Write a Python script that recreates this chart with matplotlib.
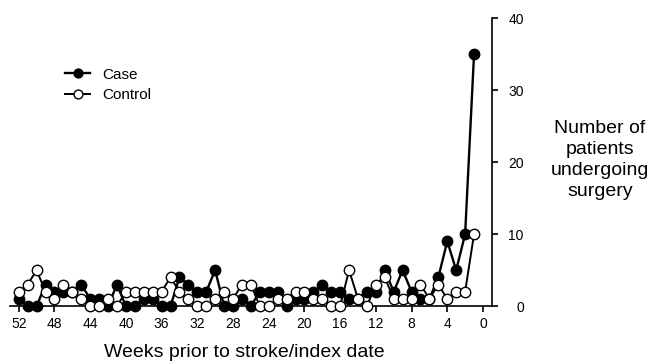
import numpy as np
import matplotlib
matplotlib.use('Agg')
import matplotlib.pyplot as plt

plt.rcParams['font.family'] = ['Liberation Sans', 'DejaVu Sans']

# weeks before stroke / index date, 52 down to 1
weeks = list(range(52, 0, -1))
case = [1, 0, 0, 3, 2, 2, 2, 3, 1, 1, 0, 3, 0, 0, 1, 1, 0, 0, 4, 3,
        2, 2, 5, 0, 0, 1, 0, 2, 2, 2, 0, 1, 1, 2, 3, 2, 2, 1, 1, 2,
        2, 5, 2, 5, 2, 1, 1, 4, 9, 5, 10, 35]
control = [2, 3, 5, 2, 1, 3, 2, 1, 0, 0, 1, 0, 2, 2, 2, 2, 2, 4, 2, 1,
           0, 0, 1, 2, 1, 3, 3, 0, 0, 1, 1, 2, 2, 1, 1, 0, 0, 5, 1, 0,
           3, 4, 1, 1, 1, 3, 1, 3, 1, 2, 2, 10]
xticks = list(range(52, -1, -4))
yticks = [0, 10, 20, 30, 40]

fig = plt.figure(figsize=(6.55, 3.61), dpi=100)
ax = fig.add_axes([0.015, 0.152, 0.736, 0.798])

ax.plot(weeks, case, color='black', lw=1.7, marker='o', ms=7.5,
        mfc='black', mec='black', mew=1, label='Case', clip_on=False, zorder=3)
ax.plot(weeks, control, color='black', lw=1.4, marker='o', ms=7.5,
        mfc='white', mec='black', mew=1, label='Control', clip_on=False, zorder=4)

ax.set_xlim(53, -1)
ax.set_ylim(0, 40)
ax.set_xticks(xticks)
ax.set_yticks(yticks)

ax.spines['top'].set_visible(False)
ax.spines['left'].set_visible(False)
ax.spines['bottom'].set_linewidth(1.2)
ax.spines['right'].set_linewidth(1.2)
ax.yaxis.tick_right()
ax.tick_params(axis='x', direction='out', length=4, width=1.2, pad=4, labelsize=10)
ax.tick_params(axis='y', direction='out', length=4, width=1.2, pad=19, labelsize=10)
for lab in ax.get_yticklabels():
    lab.set_horizontalalignment('right')

fig.text(0.916, 0.557, 'Number of\npatients\nundergoing\nsurgery', ha='center',
         va='center', fontsize=14, linespacing=1.3)
fig.text(0.373, 0.047, 'Weeks prior to stroke/index date', ha='center',
         va='top', fontsize=14)

ax.legend(loc='upper left', bbox_to_anchor=(0.088, 0.834), bbox_transform=fig.transFigure,
          frameon=False, fontsize=11, handlelength=1.65, handletextpad=0.8,
          labelspacing=0.45, borderpad=0, markerscale=0.85)

fig.savefig('out.png', dpi=100)
